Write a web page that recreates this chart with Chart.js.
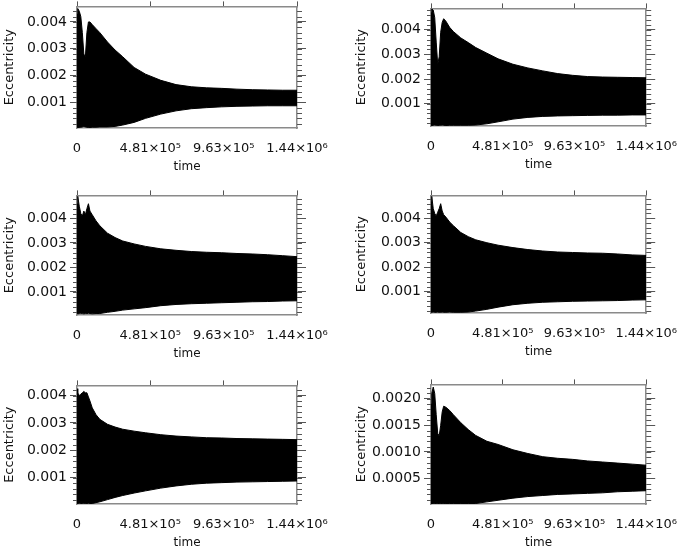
<!DOCTYPE html>
<html>
<head>
<meta charset="utf-8">
<script src="https://cdn.jsdelivr.net/npm/chart.js@4.4.1/dist/chart.umd.min.js"></script>
<style>
  body { margin: 0; background: #fff; }
  #wrap { position: relative; width: 685px; height: 550px; overflow: hidden; }
  .panel { position: absolute; }
</style>
</head>
<body>
<div id="wrap"></div>
<script>
// sample times (same for all six runs)
const time = [0, 5e3, 15e3, 25e3, 35e3, 45e3, 55e3, 65e3, 75e3, 85e3, 100e3, 125e3, 150e3,
  200e3, 250e3, 300e3, 375e3, 450e3, 550e3, 650e3, 750e3, 850e3, 950e3, 1050e3, 1150e3,
  1250e3, 1350e3, 1444e3];

const xTickValues = [0, 4.81e5, 9.63e5, 1.444e6];
const xTickLabels = ['0', '4.81×10⁵', '9.63×10⁵', '1.44×10⁶'];
const yTicksA = [0.001, 0.002, 0.003, 0.004];
const yTicksB = [0.0005, 0.0010, 0.0015, 0.0020];

// upper / lower edge of the eccentricity band, per panel
const upper1 = [0.00430, 0.00450, 0.00440, 0.00420, 0.00360, 0.00280, 0.00270, 0.00360, 0.00400, 0.00400,
  0.00390, 0.00375, 0.00360, 0.00325, 0.00295, 0.00270, 0.00230, 0.00205, 0.00182, 0.00166,
  0.00158, 0.00154, 0.00152, 0.00149, 0.00147, 0.00146, 0.00145, 0.00145];
const lower1 = [0.00008, 0.00006, 0.00006, 0.00007, 0.00008, 0.00010, 0.00008, 0.00007, 0.00006, 0.00006,
  0.00007, 0.00007, 0.00008, 0.00008, 0.00010, 0.00015, 0.00025, 0.00040, 0.00056, 0.00068,
  0.00076, 0.00080, 0.00083, 0.00085, 0.00086, 0.00087, 0.00087, 0.00087];

const upper2 = [0.00470, 0.00485, 0.00480, 0.00450, 0.00350, 0.00260, 0.00290, 0.00390, 0.00430, 0.00445,
  0.00435, 0.00410, 0.00393, 0.00367, 0.00348, 0.00328, 0.00305, 0.00282, 0.00260, 0.00245,
  0.00233, 0.00222, 0.00215, 0.00210, 0.00208, 0.00207, 0.00206, 0.00205];
const lower2 = [0.00012, 0.00011, 0.00012, 0.00013, 0.00012, 0.00011, 0.00012, 0.00012, 0.00013, 0.00012,
  0.00011, 0.00012, 0.00012, 0.00012, 0.00012, 0.00013, 0.00018, 0.00026, 0.00037, 0.00044,
  0.00048, 0.00050, 0.00051, 0.00052, 0.00053, 0.00053, 0.00054, 0.00054];

const upper3 = [0.00460, 0.00490, 0.00450, 0.00420, 0.00410, 0.00430, 0.00415, 0.00440, 0.00460, 0.00430,
  0.00415, 0.00390, 0.00370, 0.00340, 0.00322, 0.00308, 0.00296, 0.00286, 0.00276, 0.00270,
  0.00265, 0.00262, 0.00260, 0.00257, 0.00255, 0.00252, 0.00248, 0.00244];
const lower3 = [0.00012, 0.00011, 0.00012, 0.00013, 0.00012, 0.00011, 0.00012, 0.00012, 0.00013, 0.00012,
  0.00011, 0.00012, 0.00012, 0.00017, 0.00021, 0.00026, 0.00031, 0.00036, 0.00044, 0.00049,
  0.00052, 0.00054, 0.00056, 0.00058, 0.00060, 0.00061, 0.00063, 0.00064];

const upper4 = [0.00470, 0.00490, 0.00440, 0.00420, 0.00410, 0.00425, 0.00440, 0.00460, 0.00430, 0.00415,
  0.00405, 0.00385, 0.00370, 0.00342, 0.00325, 0.00312, 0.00300, 0.00290, 0.00280, 0.00272,
  0.00266, 0.00262, 0.00260, 0.00258, 0.00257, 0.00254, 0.00250, 0.00248];
const lower4 = [0.00015, 0.00015, 0.00016, 0.00015, 0.00015, 0.00016, 0.00015, 0.00015, 0.00016, 0.00015,
  0.00015, 0.00016, 0.00015, 0.00015, 0.00016, 0.00020, 0.00027, 0.00036, 0.00046, 0.00052,
  0.00056, 0.00058, 0.00060, 0.00061, 0.00062, 0.00063, 0.00065, 0.00066];

const upper5 = [0.00425, 0.00410, 0.00400, 0.00405, 0.00410, 0.00415, 0.00410, 0.00410, 0.00395, 0.00380,
  0.00355, 0.00330, 0.00313, 0.00295, 0.00285, 0.00277, 0.00270, 0.00264, 0.00257, 0.00252,
  0.00249, 0.00246, 0.00245, 0.00243, 0.00242, 0.00241, 0.00240, 0.00239];
const lower5 = [0.00006, 0.00006, 0.00007, 0.00006, 0.00006, 0.00007, 0.00006, 0.00006, 0.00007, 0.00006,
  0.00006, 0.00009, 0.00012, 0.00020, 0.00028, 0.00035, 0.00044, 0.00052, 0.00062, 0.00070,
  0.00076, 0.00080, 0.00082, 0.00084, 0.00085, 0.00086, 0.00087, 0.00088];

const upper6 = [0.00190, 0.00210, 0.00222, 0.00210, 0.00170, 0.00135, 0.00130, 0.00150, 0.00175, 0.00186,
  0.00184, 0.00178, 0.00170, 0.00155, 0.00142, 0.00131, 0.00120, 0.00114, 0.00104, 0.00097,
  0.00091, 0.00088, 0.00086, 0.00083, 0.00081, 0.00079, 0.00077, 0.00075];
const lower6 = [0.00003, 0.00003, 0.00003, 0.00003, 0.00003, 0.00003, 0.00003, 0.00003, 0.00003, 0.00003,
  0.00003, 0.00003, 0.00003, 0.00003, 0.00003, 0.00003, 0.00006, 0.00009, 0.00013, 0.00016,
  0.00018, 0.00020, 0.00021, 0.00022, 0.00023, 0.00025, 0.00026, 0.00027];

const uppers = [upper1, upper2, upper3, upper4, upper5, upper6];
const lowers = [lower1, lower2, lower3, lower4, lower5, lower6];
const yMin = [0.00004, 0.00009, 0.00006, 0.00012, 0.00004, 0.00002];
const yMax = [0.00458, 0.00487, 0.00494, 0.00494, 0.00437, 0.00227];
const yTicks = [yTicksA, yTicksA, yTicksA, yTicksA, yTicksA, yTicksB];

// page layout: columns and plot boxes (top/bottom of each plot area)
const cols = [
  { left: 0, width: 340, L: 77, R: 297, titleX: 10 },
  { left: 340, width: 345, L: 431, R: 651, titleX: 22 }
];
const boxes = [
  { col: 0, T: 5, B: 128 }, { col: 1, T: 7, B: 126 },
  { col: 0, T: 194, B: 315 }, { col: 1, T: 194, B: 313 },
  { col: 0, T: 384, B: 504 }, { col: 1, T: 383, B: 504 }
];

const frame = '#8a8a8a';
const tickCol = '#555';
const font = 'DejaVu Sans';

// minor ticks on the left and right frames
const minorTicks = {
  id: 'minorTicks',
  afterDraw(chart, args, opts) {
    const ctx = chart.ctx;
    ctx.save();
    ctx.strokeStyle = tickCol;
    ctx.lineWidth = 1;
    ['y', 'y2'].forEach(id => {
      const s = chart.scales[id];
      const step = opts.step;
      for (let k = Math.ceil(s.min / step); k * step <= s.max; k++) {
        const py = Math.round(s.getPixelForValue(k * step)) + 0.5;
        ctx.beginPath();
        if (id === 'y') { ctx.moveTo(s.right - 4, py); ctx.lineTo(s.right, py); }
        else { ctx.moveTo(s.left, py); ctx.lineTo(s.left + 5, py); }
        ctx.stroke();
      }
    });
    ctx.restore();
  }
};

const wrap = document.getElementById('wrap');

boxes.forEach((b, i) => {
  const c = cols[b.col];
  const top = b.T - 10;
  const h = b.B + 46 - top;
  const div = document.createElement('div');
  div.className = 'panel';
  div.style.left = c.left + 'px';
  div.style.top = top + 'px';
  const canvas = document.createElement('canvas');
  canvas.width = c.width;
  canvas.height = h;
  div.appendChild(canvas);
  wrap.appendChild(div);

  const ticks = yTicks[i];
  const major = ticks[1] - ticks[0];
  const decimals = i === 5 ? 4 : 3;
  const upperPts = time.map((t, k) => ({ x: t, y: uppers[i][k] }));
  const lowerPts = time.map((t, k) => ({ x: t, y: lowers[i][k] }));

  const yBase = {
    type: 'linear',
    min: yMin[i],
    max: yMax[i],
    z: 1,
    afterBuildTicks: s => { s.ticks = ticks.map(v => ({ value: v })); },
    border: { color: frame, width: 1.5 },
  };

  new Chart(canvas, {
    type: 'line',
    data: {
      datasets: [
        {
          data: lowerPts,
          borderColor: '#000',
          borderWidth: 1,
          pointRadius: 0,
          fill: false,
        },
        {
          data: upperPts,
          borderColor: '#000',
          backgroundColor: '#000',
          borderWidth: 1,
          pointRadius: 0,
          fill: '-1',
        }
      ]
    },
    options: {
      responsive: false,
      animation: false,
      devicePixelRatio: 1,
      layout: { padding: 0 },
      plugins: {
        legend: { display: false },
        tooltip: { enabled: false },
        minorTicks: { step: major / 5 }
      },
      scales: {
        x: {
          type: 'linear',
          position: 'bottom',
          min: 0,
          max: 1.444e6,
          z: 1,
          afterBuildTicks: s => { s.ticks = xTickValues.map(v => ({ value: v })); },
          afterFit: s => { s.height = h - (b.B - top); },
          grid: { drawOnChartArea: false, tickLength: 5, tickColor: 'rgba(0,0,0,0)' },
          border: { color: frame, width: 1.5 },
          ticks: {
            maxRotation: 0,
            autoSkip: false,
            padding: 8,
            color: '#111',
            font: { family: font, size: 13 },
            callback: (v, idx) => xTickLabels[idx]
          },
          title: {
            display: true,
            text: 'time',
            color: '#111',
            font: { family: font, size: 12 },
            padding: { top: 0, bottom: 0 }
          }
        },
        x2: {
          type: 'linear',
          position: 'top',
          min: 0,
          max: 1.444e6,
          z: 1,
          afterBuildTicks: s => { s.ticks = xTickValues.map(v => ({ value: v })); },
          afterFit: s => { s.height = b.T - top; },
          grid: { drawOnChartArea: false, tickLength: 5, tickColor: tickCol },
          border: { color: frame, width: 1.5 },
          ticks: { display: false }
        },
        y: Object.assign({}, yBase, {
          position: 'left',
          afterFit: s => { s.width = c.L - c.left; },
          grid: { drawOnChartArea: false, tickLength: 7, tickColor: tickCol },
          ticks: {
            padding: 3,
            color: '#111',
            font: { family: font, size: 14 },
            callback: v => v.toFixed(decimals)
          },
          title: {
            display: true,
            text: 'Eccentricity',
            color: '#111',
            font: { family: font, size: 13 },
            padding: { top: c.titleX - 7.8, bottom: 0 }
          }
        }),
        y2: Object.assign({}, yBase, {
          position: 'right',
          afterFit: s => { s.width = c.left + c.width - c.R; },
          grid: { drawOnChartArea: false, tickLength: 9, tickColor: tickCol },
          ticks: { display: false }
        })
      }
    },
    plugins: [minorTicks]
  });
});
</script>
</body>
</html>
